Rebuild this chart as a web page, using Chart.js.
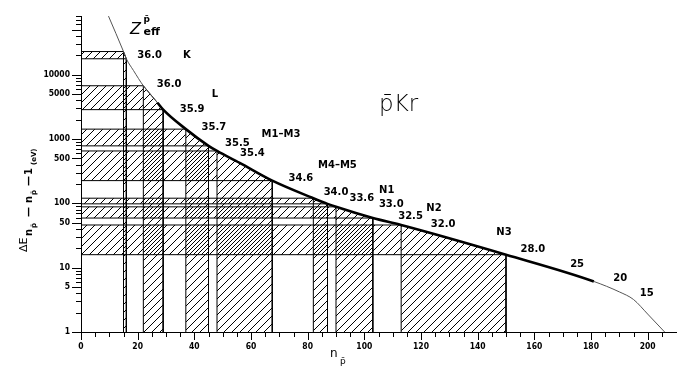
<!DOCTYPE html>
<html>
<head>
<meta charset="utf-8">
<script src="https://cdn.jsdelivr.net/npm/chart.js@4.4.0/dist/chart.umd.min.js"></script>
<style>
    html, body { margin: 0; padding: 0; background: #fff; }
    #grafico { display: block; }
</style>
</head>
<body>
<canvas id="grafico" width="689" height="372"></canvas>
<script>
// curva: energia de la transicion n -> n-1 (eV)
let curvaN = [9.7, 15, 16, 18.5, 22, 27, 29, 37, 45, 48, 56, 67.5, 82, 87, 90, 103, 113, 150, 181, 190, 195, 200, 206]
let curvaE = [81000, 22800, 17600, 11600, 6700, 3650, 2850, 1420, 780, 650, 425, 225, 120, 98, 88, 59, 46, 15.9, 6.1, 4.2, 3.2, 1.9, 1.0]

// rangos de n de cada capa (K, L, M1, M2-M3, M4, M5, N)
let capaInicio = [15, 22, 37, 48, 82, 90, 113]
let capaFin = [16, 29, 45, 67.5, 87, 103, 150]

let ticksX = [0, 20, 40, 60, 80, 100, 120, 140, 160, 180, 200]
let ticksY = [1, 5, 10, 50, 100, 500, 1000, 5000, 10000]

let etiquetas = ['36.0', 'K', '36.0', 'L', '35.9', '35.7', '35.5', '35.4', 'M1\u2013M3', 'M4\u2013M5', '34.6', '34.0', '33.6', 'N1', '33.0', '32.5', 'N2', '32.0', 'N3', '28.0', '25', '20', '15']
let etiquetasN = [24.2, 37.4, 31.1, 47.3, 39.2, 46.9, 55.2, 60.5, 70.6, 90.5, 77.6, 90.0, 99.1, 107.9, 109.5, 116.3, 124.6, 127.8, 149.3, 159.5, 175.1, 190.3, 199.7]
let etiquetasE = [19950, 19950, 6950, 4850, 2880, 1493, 848, 600, 1185, 383, 246, 146, 120, 156, 94.9, 63.4, 84.7, 47.1, 35.7, 19.2, 11.1, 6.81, 3.95]

let canvas = document.getElementById('grafico')
let ctxPrincipal = canvas.getContext('2d')

function rayado(desfase) {
    let c = document.createElement('canvas')
    c.width = 8
    c.height = 8
    let g = c.getContext('2d')
    g.strokeStyle = '#000'
    g.lineWidth = 1
    g.beginPath()
    for (let k = -16; k <= 16; k += 8) {
        g.moveTo(k + desfase, 8)
        g.lineTo(k + desfase + 8, 0)
    }
    g.stroke()
    return ctxPrincipal.createPattern(c, 'repeat')
}
let rayadoA = rayado(0)
let rayadoB = rayado(4)

function energia(n) {
    return curvaE[curvaN.indexOf(n)]
}

let puntosCurva = curvaN.map((n, i) => ({ x: n, y: curvaE[i] }))

let datasets = []
datasets.push({
    data: puntosCurva,
    borderColor: '#000',
    borderWidth: 1,
    pointRadius: 0,
    fill: false,
    cubicInterpolationMode: 'monotone',
    segment: {
        borderWidth: c => (c.p0.parsed.x >= 27 && c.p1.parsed.x <= 181) ? 2.6 : 1,
        borderColor: c => (c.p0.parsed.x >= 27 && c.p1.parsed.x <= 181) ? '#000' : '#555'
    },
    order: 0
})

for (let i = 0; i < capaInicio.length; i++) {
    let na = capaInicio[i]
    let nb = capaFin[i]
    let ea = energia(na)
    let eb = energia(nb)
    let arriba = puntosCurva.filter(p => p.x >= na && p.x <= nb)
    // franja vertical
    datasets.push({
        data: [{ x: na, y: 1 }].concat(arriba, [{ x: nb, y: 1 }]),
        fill: 'start',
        backgroundColor: rayadoB,
        borderColor: '#000',
        borderWidth: 1,
        pointRadius: 0,
        tension: 0,
        order: 2
    })
    // banda horizontal
    datasets.push({
        data: [{ x: 0, y: ea }, { x: na, y: ea }],
        fill: { value: eb },
        backgroundColor: rayadoA,
        borderColor: '#000',
        borderWidth: 1,
        pointRadius: 0,
        tension: 0,
        order: 2
    })
    // borde inferior de la banda
    datasets.push({
        data: [{ x: 0, y: eb }, { x: nb, y: eb }],
        fill: false,
        borderColor: '#000',
        borderWidth: 1,
        pointRadius: 0,
        tension: 0,
        order: 1
    })
}

let fuenteTicks = { family: '"DejaVu Sans Condensed", "DejaVu Sans", sans-serif', size: 8.5, weight: 'bold' }

const extras = {
    id: 'extras',
    afterDraw(chart) {
        const ctx = chart.ctx
        const x = chart.scales.x
        const y = chart.scales.y
        ctx.save()
        ctx.strokeStyle = '#000'
        ctx.lineWidth = 1
        ctx.beginPath()
        for (let v = 0; v <= 205; v += 5) {
            let px = Math.round(x.getPixelForValue(v)) + 0.5
            let l = (v % 20 == 0) ? 8 : 5
            ctx.moveTo(px, y.bottom)
            ctx.lineTo(px, y.bottom + l)
        }
        for (let d = 1; d <= 10000; d *= 10) {
            for (let k = 1; k <= 9; k++) {
                let v = k * d
                if (v > y.max) break
                let py = Math.round(y.getPixelForValue(v)) + 0.5
                let l = (k == 1 || k == 5) ? 9 : 5
                ctx.moveTo(x.left - l, py)
                ctx.lineTo(x.left, py)
            }
        }
        ctx.stroke()

        ctx.fillStyle = '#000'
        ctx.textAlign = 'center'
        ctx.textBaseline = 'middle'
        ctx.font = 'bold 10px "DejaVu Sans"'
        etiquetas.forEach((t, i) => {
            ctx.fillText(t, x.getPixelForValue(etiquetasN[i]), y.getPixelForValue(etiquetasE[i]))
        })

        // Z_eff
        ctx.font = 'oblique 16px "DejaVu Sans"'
        ctx.fillText('Z', x.getPixelForValue(19.2), y.getPixelForValue(49200))
        ctx.font = '600 11px "DejaVu Sans"'
        ctx.fillText('eff', x.getPixelForValue(24.95), y.getPixelForValue(45100))
        ctx.font = 'bold 9px "DejaVu Sans"'
        ctx.fillText('p\u0304', x.getPixelForValue(23.2), y.getPixelForValue(71800))

        // pKr
        ctx.font = '300 23px "DejaVu Sans ExtraLight", "DejaVu Sans"'
        ctx.fillText('p\u0304Kr', x.getPixelForValue(112.1), y.getPixelForValue(3350))

        // titulo eje x
        ctx.textAlign = 'left'
        ctx.textBaseline = 'alphabetic'
        ctx.font = '12px "DejaVu Sans"'
        ctx.fillText('n', 330, 357)
        ctx.font = '9px "DejaVu Sans"'
        ctx.fillText('p\u0304', 340, 364)

        // titulo eje y
        ctx.translate(27, 252)
        ctx.rotate(-Math.PI / 2)
        let partes = [
            ['\u0394E', '11px "DejaVu Sans"', 0, 0],
            ['n', 'bold 10px "DejaVu Sans"', 16, 5],
            ['p\u0304', 'bold 7px "DejaVu Sans"', 24, 9],
            ['\u2014', 'bold 10px "DejaVu Sans"', 35, 5],
            ['n', 'bold 10px "DejaVu Sans"', 49, 5],
            ['p\u0304', 'bold 7px "DejaVu Sans"', 57, 9],
            ['\u2014', 'bold 10px "DejaVu Sans"', 66, 5],
            ['1', 'bold 10px "DejaVu Sans"', 77, 5],
            ['(eV)', 'bold 7px "DejaVu Sans"', 87, 9]
        ]
        partes.forEach(p => {
            ctx.font = p[1]
            ctx.fillText(p[0], p[2], p[3])
        })
        ctx.restore()
    }
}

new Chart(canvas, {
    type: 'line',
    data: { datasets: datasets },
    options: {
        responsive: false,
        animation: false,
        events: [],
        layout: { padding: { top: 5, right: 13, left: 0, bottom: 0 } },
        plugins: {
            legend: { display: false },
            tooltip: { enabled: false }
        },
        scales: {
            x: {
                type: 'linear',
                min: 0,
                max: 210,
                afterBuildTicks: s => { s.ticks = ticksX.map(v => ({ value: v })) },
                afterFit: s => { s.height = 40 },
                grid: { display: true, drawOnChartArea: false, drawTicks: false },
                border: { display: true, color: '#000', width: 1 },
                ticks: { color: '#000', font: fuenteTicks, padding: 10, maxRotation: 0, autoSkip: false, callback: v => String(v) }
            },
            y: {
                type: 'logarithmic',
                min: 1,
                max: 81000,
                afterBuildTicks: s => { s.ticks = ticksY.map(v => ({ value: v })) },
                afterFit: s => { s.width = 81 },
                grid: { display: true, drawOnChartArea: false, drawTicks: false },
                border: { display: true, color: '#000', width: 1 },
                ticks: { color: '#000', font: fuenteTicks, padding: 11, autoSkip: false, callback: v => String(v) }
            }
        }
    },
    plugins: [extras]
})
</script>
</body>
</html>
